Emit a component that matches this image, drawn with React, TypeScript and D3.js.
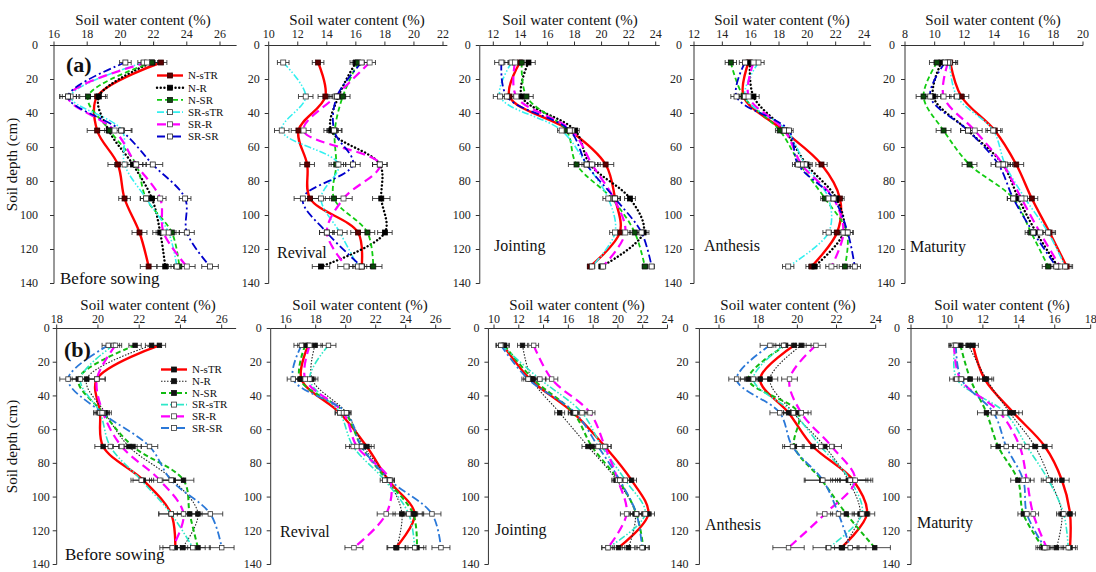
import React from "react";
import * as d3 from "d3";

// ---------------- DATA ----------------
const depths = [10, 30, 50, 70, 90, 110, 130];
const depthTicks = [0, 20, 40, 60, 80, 100, 120, 140];
const seriesNames = ["N-sTR", "N-R", "N-SR", "SR-sTR", "SR-R", "SR-SR"];
const stageNames = ["Before sowing", "Revival", "Jointing", "Anthesis", "Maturity"];
const axisTitle = "Soil water content (%)";
const depthTitle = "Soil depth (cm)";

// (a) top row: rows = series in seriesNames order, columns = depths
const aBeforeSowing = [
  [22.45, 18.6, 18.6, 19.85, 20.25, 21.15, 21.7],
  [21.9, 18.7, 19.3, 20.75, 21.9, 22.4, 22.7],
  [21.9, 18.05, 19.35, 20.95, 21.55, 23.1, 23.55],
  [21.4, 17.0, 20.1, 20.25, 21.55, 22.9, 23.4],
  [21.6, 16.85, 19.65, 20.95, 22.4, 22.6, 24.0],
  [20.3, 16.85, 20.05, 21.95, 23.9, 24.0, 25.4],
];
const aRevival = [
  [13.4, 13.9, 12.05, 12.65, 12.85, 16.15, 16.4],
  [16.0, 14.8, 14.3, 17.65, 17.75, 18.0, 13.6],
  [16.15, 15.1, 14.55, 14.65, 14.5, 16.8, 17.2],
  [11.0, 12.55, 10.9, 14.8, 13.6, 14.9, 16.15],
  [16.95, 14.6, 12.4, 17.65, 15.15, 14.0, 15.35],
  [16.4, 14.7, 14.5, 15.8, 12.35, 14.0, 16.4],
];
const aJointing = [
  [13.97, 13.2, 17.65, 20.3, 21.0, 21.35, 19.15],
  [14.6, 14.1, 18.05, 19.15, 22.1, 23.1, 20.0],
  [14.1, 14.45, 17.4, 18.15, 20.75, 22.45, 23.2],
  [13.35, 12.5, 17.05, 18.9, 20.5, 21.0, 19.3],
  [13.6, 13.7, 17.8, 19.3, 20.9, 21.75, 20.1],
  [12.6, 13.0, 17.65, 18.9, 21.0, 22.95, 23.7],
];
const aAnthesis = [
  [15.85, 15.5, 18.3, 21.0, 22.3, 22.1, 20.3],
  [15.95, 16.2, 18.4, 19.95, 22.05, 22.55, 20.5],
  [14.6, 15.5, 18.05, 19.5, 21.25, 22.8, 22.65],
  [16.55, 15.6, 18.55, 19.85, 21.5, 21.5, 18.65],
  [16.2, 15.85, 18.4, 19.6, 21.85, 22.55, 21.7],
  [15.6, 15.0, 18.7, 19.35, 21.85, 22.85, 23.35],
];
const aMaturity = [
  [11.05, 11.8, 14.05, 15.5, 16.55, 17.75, 18.9],
  [10.45, 9.9, 12.25, 14.6, 15.65, 16.85, 18.3],
  [10.15, 9.25, 10.6, 12.35, 15.3, 16.5, 17.65],
  [11.0, 11.5, 13.95, 14.75, 16.1, 17.65, 18.8],
  [10.9, 10.6, 12.7, 14.6, 15.85, 17.1, 18.45],
  [10.7, 9.7, 12.25, 14.3, 15.3, 16.65, 18.2],
];
// (b) bottom row
const bBeforeSowing = [
  [22.98, 19.95, 20.1, 20.25, 22.2, 23.55, 23.75],
  [22.6, 19.45, 20.35, 21.5, 23.65, 24.85, 24.1],
  [21.8, 19.05, 20.25, 21.7, 24.15, 24.45, 24.85],
  [20.75, 19.15, 20.1, 20.6, 22.1, 23.55, 24.6],
  [20.85, 19.95, 20.25, 21.15, 23.0, 24.15, 23.6],
  [20.5, 18.55, 20.2, 22.5, 23.55, 25.45, 26.0],
];
const bRevival = [
  [17.5, 17.05, 19.6, 21.4, 22.85, 24.6, 23.35],
  [17.95, 17.75, 20.05, 21.2, 22.85, 23.75, 23.4],
  [17.3, 16.95, 19.95, 21.05, 22.75, 24.5, 24.75],
  [18.85, 17.6, 19.6, 20.5, 22.6, 24.2, 24.6],
  [17.6, 17.3, 19.85, 20.75, 22.95, 22.7, 20.55],
  [17.05, 16.5, 20.05, 21.05, 22.95, 25.75, 26.35],
];
const bJointing = [
  [10.75, 12.9, 16.4, 18.95, 21.1, 22.45, 20.05],
  [12.3, 13.05, 15.3, 17.6, 19.9, 21.4, 20.85],
  [10.85, 13.15, 16.4, 17.9, 20.05, 21.5, 22.05],
  [10.6, 13.7, 17.1, 18.7, 20.6, 22.2, 19.2],
  [13.2, 14.65, 17.75, 18.95, 20.0, 20.7, 19.2],
  [10.55, 12.75, 16.55, 18.4, 20.15, 21.5, 21.95],
];
const bAnthesis = [
  [19.85, 18.1, 19.55, 20.8, 22.85, 23.55, 22.25],
  [20.2, 18.6, 19.8, 21.4, 22.6, 23.2, 22.3],
  [19.4, 17.5, 20.05, 19.85, 21.25, 22.5, 23.95],
  [19.3, 17.75, 19.8, 21.2, 22.7, 23.3, 21.6],
  [20.95, 19.6, 20.2, 21.75, 22.95, 21.4, 19.55],
  [18.6, 16.9, 19.1, 19.75, 21.3, 22.1, 22.7],
];
const bMaturity = [
  [11.45, 12.1, 13.7, 15.45, 16.4, 16.85, 16.85],
  [11.2, 12.2, 13.5, 14.9, 15.75, 16.4, 16.1],
  [10.75, 11.3, 12.2, 12.85, 13.95, 14.25, 15.35],
  [10.45, 10.55, 13.25, 14.45, 15.65, 16.5, 16.75],
  [10.4, 10.75, 12.95, 14.05, 14.45, 14.8, 15.55],
  [10.5, 10.8, 12.6, 13.3, 14.25, 14.45, 15.45],
];

// standard errors (per depth) per panel
const errA1 = [0.35, 0.5, 0.6, 0.6, 0.35, 0.45, 0.5];
const errA2 = [0.4, 0.5, 0.5, 0.5, 0.6, 0.5, 0.6];
const errA3 = [0.5, 0.5, 0.3, 0.6, 0.4, 0.4, 0.2];
const errA4 = [0.4, 0.4, 0.3, 0.4, 0.3, 0.4, 0.4];
const errA5 = [0.5, 0.5, 0.5, 0.5, 0.4, 0.4, 0.4];
const errB1 = [0.3, 0.4, 0.3, 0.4, 0.5, 0.6, 0.6];
const errB2 = [0.5, 0.4, 0.3, 0.5, 0.3, 0.6, 0.6];
const errB3 = [0.4, 0.5, 0.4, 0.5, 0.4, 0.5, 0.5];
const errB4 = [0.5, 0.4, 0.5, 0.5, 0.9, 0.4, 0.8];
const errB5 = [0.3, 0.4, 0.5, 0.4, 0.4, 0.3, 0.4];

const ticksA1 = [16, 18, 20, 22, 24, 26];
const ticksA2 = [10, 12, 14, 16, 18, 20, 22];
const ticksA3 = [12, 14, 16, 18, 20, 22, 24];
const ticksA4 = [12, 14, 16, 18, 20, 22, 24];
const ticksA5 = [8, 10, 12, 14, 16, 18, 20];
const ticksB1 = [18, 20, 22, 24, 26];
const ticksB2 = [16, 18, 20, 22, 24, 26];
const ticksB3 = [10, 12, 14, 16, 18, 20, 22, 24];
const ticksB4 = [16, 18, 20, 22, 24];
const ticksB5 = [8, 10, 12, 14, 16, 18];

// ---------------- STYLES / LAYOUT ----------------
const FONT = "'Times New Roman', 'Liberation Serif', serif";

type SStyle = { color: string; width: number; dash: string; cap: string; mFill: string; mStroke: string };
const topStyles: SStyle[] = [
  { color: "#ff0000", width: 2.4, dash: "", cap: "butt", mFill: "#5a0000", mStroke: "#300" },
  { color: "#000000", width: 2.4, dash: "0.1 3.6", cap: "round", mFill: "#000", mStroke: "#000" },
  { color: "#11cc11", width: 1.8, dash: "5 3", cap: "butt", mFill: "#0a4a0a", mStroke: "#111" },
  { color: "#33f0f0", width: 1.6, dash: "7 2 1.5 2 1.5 2", cap: "butt", mFill: "#fff", mStroke: "#333" },
  { color: "#ff00ff", width: 2.2, dash: "9 5", cap: "butt", mFill: "#fff", mStroke: "#444" },
  { color: "#0000cc", width: 1.8, dash: "8 3 2 3", cap: "butt", mFill: "#fff", mStroke: "#222" },
];
const bottomStyles: SStyle[] = [
  { color: "#ff0000", width: 2.4, dash: "", cap: "butt", mFill: "#111", mStroke: "#111" },
  { color: "#222222", width: 1.1, dash: "1.5 1.5", cap: "butt", mFill: "#111", mStroke: "#111" },
  { color: "#11bb11", width: 2.0, dash: "5 3", cap: "butt", mFill: "#111", mStroke: "#111" },
  { color: "#2ee8c8", width: 1.6, dash: "7 2 1.5 2 1.5 2", cap: "butt", mFill: "#fff", mStroke: "#333" },
  { color: "#ff00ff", width: 2.2, dash: "9 5", cap: "butt", mFill: "#fff", mStroke: "#444" },
  { color: "#2a78d8", width: 1.8, dash: "8 3 2 3", cap: "butt", mFill: "#fff", mStroke: "#333" },
];

type Panel = {
  data: number[][]; err: number[]; ticks: number[]; stage: string;
  tA: number; pA: number; tB: number; pB: number; axMin: number; axMax: number;
  row: number; titleX: number; stageX: number; stageY: number; labelGap: number;
};

const panels: Panel[] = [
  { data: aBeforeSowing, err: errA1, ticks: ticksA1, stage: stageNames[0], tA: 16, pA: 54, tB: 26, pB: 220, axMin: 16, axMax: 27, row: 0, titleX: 143, stageX: 60, stageY: 284, labelGap: 16 },
  { data: aRevival, err: errA2, ticks: ticksA2, stage: stageNames[1], tA: 10, pA: 268.7, tB: 22, pB: 443, axMin: 10, axMax: 22.3, row: 0, titleX: 357, stageX: 277, stageY: 258, labelGap: 9 },
  { data: aJointing, err: errA3, ticks: ticksA3, stage: stageNames[2], tA: 12, pA: 493.3, tB: 24, pB: 655.7, axMin: 11, axMax: 24.3, row: 0, titleX: 570, stageX: 494, stageY: 251, labelGap: 9 },
  { data: aAnthesis, err: errA4, ticks: ticksA4, stage: stageNames[3], tA: 12, pA: 694, tB: 24, pB: 864, axMin: 12, axMax: 24.5, row: 0, titleX: 782, stageX: 704, stageY: 251, labelGap: 12 },
  { data: aMaturity, err: errA5, ticks: ticksA5, stage: stageNames[4], tA: 8, pA: 905, tB: 20, pB: 1083, axMin: 8, axMax: 20, row: 0, titleX: 993, stageX: 910, stageY: 252, labelGap: 10 },
  { data: bBeforeSowing, err: errB1, ticks: ticksB1, stage: stageNames[0], tA: 18, pA: 56.7, tB: 26, pB: 221.7, axMin: 18, axMax: 26.7, row: 1, titleX: 148, stageX: 65, stageY: 560, labelGap: 7 },
  { data: bRevival, err: errB2, ticks: ticksB2, stage: stageNames[1], tA: 16, pA: 285.7, tB: 26, pB: 435.7, axMin: 15, axMax: 27, row: 1, titleX: 360, stageX: 280, stageY: 537, labelGap: 9 },
  { data: bJointing, err: errB3, ticks: ticksB3, stage: stageNames[2], tA: 10, pA: 494, tB: 22, pB: 642.7, axMin: 9.55, axMax: 24, row: 1, titleX: 577, stageX: 495, stageY: 535, labelGap: 9 },
  { data: bAnthesis, err: errB4, ticks: ticksB4, stage: stageNames[3], tA: 16, pA: 719, tB: 24, pB: 875.7, axMin: 15, axMax: 24, row: 1, titleX: 788, stageX: 705, stageY: 530, labelGap: 11 },
  { data: bMaturity, err: errB5, ticks: ticksB5, stage: stageNames[4], tA: 8, pA: 911, tB: 18, pB: 1090.7, axMin: 8, axMax: 18, row: 1, titleX: 1002, stageX: 917, stageY: 528, labelGap: 11 },
];

const rows = [
  { y0: 45.5, y1: 283.5, titleY: 25, tickY: 38, tag: "(a)", tagX: 66, tagY: 72, legX: 157, legY: 75.5, legStep: 12.2 },
  { y0: 328.5, y1: 564.5, titleY: 310, tickY: 323, tag: "(b)", tagX: 64, tagY: 357, legX: 161, legY: 369.5, legStep: 11.7 },
];

function PanelView({ p }: { p: Panel }) {
  const r = rows[p.row];
  const styles = p.row === 0 ? topStyles : bottomStyles;
  const x = d3.scaleLinear().domain([p.tA, p.tB]).range([p.pA, p.pB]);
  const y = d3.scaleLinear().domain([0, 140]).range([r.y0, r.y1]);
  const xL = x(p.axMin);
  const xR = x(p.axMax);
  const line = d3
    .line<number>()
    .x((v) => x(v))
    .y((_, i) => y(depths[i]))
    .curve(d3.curveCatmullRom.alpha(0.5));
  const ms = p.row === 0 ? 5 : 4.5;
  return (
    <g>
      {/* axes */}
      <line x1={xL} x2={xR} y1={r.y0} y2={r.y0} stroke="#333" strokeWidth={1} />
      <line x1={xL} x2={xL} y1={r.y0} y2={r.y1} stroke="#333" strokeWidth={1} />
      {p.ticks.map((t) => (
        <g key={"xt" + t}>
          <line x1={x(t)} x2={x(t)} y1={r.y0} y2={r.y0 - 4} stroke="#333" />
          <text x={x(t)} y={r.tickY} textAnchor="middle" fontSize={12} fontFamily={FONT} fill="#222">{t}</text>
        </g>
      ))}
      {depthTicks.map((t) => (
        <g key={"yt" + t}>
          <line x1={xL - 4} x2={xL} y1={y(t)} y2={y(t)} stroke="#333" />
          <text x={xL - p.labelGap} y={y(t)} dy="0.33em" textAnchor="end" fontSize={12} fontFamily={FONT} fill="#222">{t}</text>
        </g>
      ))}
      <text x={p.titleX} y={r.titleY} textAnchor="middle" fontSize={15} fontFamily={FONT} fill="#111">{axisTitle}</text>
      {/* lines */}
      {p.data.map((s, si) => (
        <path key={"l" + si} d={line(s) || ""} fill="none" stroke={styles[si].color} strokeWidth={styles[si].width}
          strokeDasharray={styles[si].dash || undefined} strokeLinecap={styles[si].cap as any} />
      ))}
      {/* error bars */}
      {p.data.map((s, si) =>
        s.map((v, i) => {
          const e = p.err[i];
          const yy = y(depths[i]);
          return (
            <g key={"e" + si + "-" + i} stroke="#222" strokeWidth={0.8}>
              <line x1={x(v - e)} x2={x(v + e)} y1={yy} y2={yy} />
              <line x1={x(v - e)} x2={x(v - e)} y1={yy - 2.5} y2={yy + 2.5} />
              <line x1={x(v + e)} x2={x(v + e)} y1={yy - 2.5} y2={yy + 2.5} />
            </g>
          );
        })
      )}
      {/* markers */}
      {p.data.map((s, si) =>
        s.map((v, i) => (
          <rect key={"m" + si + "-" + i} x={x(v) - ms / 2} y={y(depths[i]) - ms / 2} width={ms} height={ms}
            fill={styles[si].mFill} stroke={styles[si].mStroke} strokeWidth={0.8} />
        ))
      )}
      <text x={p.stageX} y={p.stageY} fontSize={p.stage === stageNames[0] ? 17 : 16} fontFamily={FONT} fill="#111">{p.stage}</text>
    </g>
  );
}

function Legend({ row }: { row: number }) {
  const r = rows[row];
  const styles = row === 0 ? topStyles : bottomStyles;
  return (
    <g>
      {seriesNames.map((n, i) => {
        const yy = r.legY + i * r.legStep;
        const st = styles[i];
        return (
          <g key={n}>
            <line x1={r.legX} x2={r.legX + 26} y1={yy} y2={yy} stroke={st.color} strokeWidth={st.width}
              strokeDasharray={st.dash || undefined} strokeLinecap={st.cap as any} />
            <rect x={r.legX + 13 - 2.5} y={yy - 2.5} width={5} height={5} fill={st.mFill} stroke={st.mStroke} strokeWidth={0.8} />
            <text x={r.legX + 31} y={yy} dy="0.35em" fontSize={11} fontFamily={FONT} fill="#111">{n}</text>
          </g>
        );
      })}
    </g>
  );
}

export default function App() {
  return (
    <svg width={1096} height={572} style={{ position: "absolute", left: 0, top: 0, background: "#fff" }}>
      <rect width={1096} height={572} fill="#fff" />
      {panels.map((p, i) => (
        <PanelView key={i} p={p} />
      ))}
      {rows.map((r, i) => (
        <g key={"row" + i}>
          <text x={r.tagX} y={r.tagY} fontSize={22} fontWeight="bold" fontFamily={FONT} fill="#111">{r.tag}</text>
          <Legend row={i} />
          <text transform={`translate(17,${(r.y0 + r.y1) / 2}) rotate(-90)`} textAnchor="middle" fontSize={15} fontFamily={FONT} fill="#111">{depthTitle}</text>
        </g>
      ))}
    </svg>
  );
}
